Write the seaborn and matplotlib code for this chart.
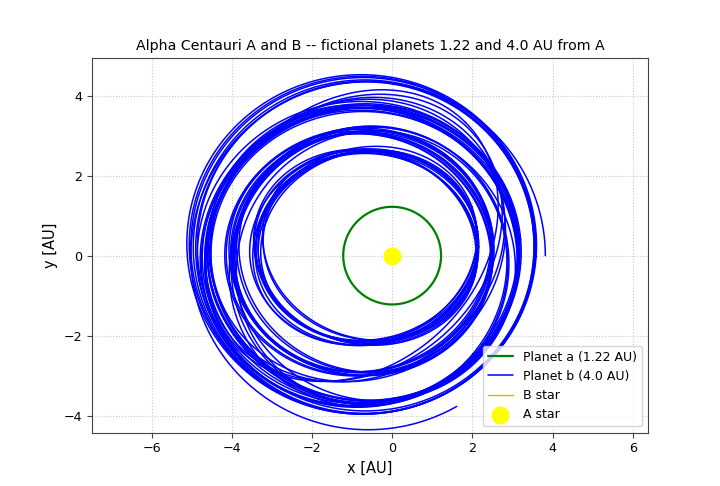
import numpy as np
import pandas as pd
import matplotlib
matplotlib.use('Agg')
import matplotlib.pyplot as plt
import seaborn as sns

# Planet a: a near-circular orbit
planet_a_radius = 1.22

# Planet b: each loop of the perturbed orbit, approximated as an ellipse
# (centre x, centre y, half-width, half-height, tilt in degrees)
loop_cx = [
    # inner band
    -0.62, -0.60, -0.65, -0.58, -0.66, -0.63, -0.61, -0.68, -0.57, -0.64, -0.55, -0.70,
    # middle band
    -0.75, -0.72, -0.78, -0.74, -0.70, -0.80, -0.76, -0.73, -0.68, -0.82,
    # outer band
    -0.75, -0.78, -0.72, -0.80, -0.70, -0.76, -0.74, -0.82, -0.68, -0.77, -0.73, -0.79,
    # outermost loops
    -0.72, -0.70, -0.76, -0.68, -0.74, -0.66,
    # tilted loops
    -0.90, -0.95, -0.85, -1.00, -0.55, -0.50, -0.45, -0.60,
]
loop_cy = [
    0.22, 0.24, 0.20, 0.26, 0.21, 0.23, 0.18, 0.25, 0.27, 0.19, 0.23, 0.21,
    0.07, 0.09, 0.05, 0.10, 0.06, 0.08, 0.04, 0.11, 0.07, 0.09,
    0.00, 0.03, -0.02, 0.02, 0.04, -0.03, 0.01, 0.05, -0.01, 0.00, 0.06, -0.04,
    0.25, 0.22, 0.28, 0.20, 0.26, 0.24,
    0.40, 0.45, 0.38, 0.50, -0.25, -0.30, -0.20, -0.28,
]
loop_rx = [
    2.78, 2.75, 2.80, 2.72, 2.82, 2.77, 2.74, 2.84, 2.70, 2.79, 2.68, 2.86,
    3.25, 3.22, 3.30, 3.24, 3.20, 3.34, 3.27, 3.23, 3.18, 3.36,
    3.92, 3.96, 3.88, 4.00, 3.86, 3.94, 3.90, 4.04, 3.84, 3.95, 3.89, 3.98,
    4.30, 4.26, 4.36, 4.22, 4.32, 4.20,
    3.85, 3.95, 3.75, 4.00, 3.45, 3.35, 3.55, 3.40,
]
loop_ry = [
    2.38, 2.36, 2.41, 2.35, 2.42, 2.39, 2.37, 2.43, 2.34, 2.40, 2.33, 2.45,
    3.00, 2.98, 3.04, 2.99, 2.96, 3.07, 3.02, 2.97, 2.94, 3.09,
    3.68, 3.72, 3.65, 3.76, 3.64, 3.70, 3.67, 3.80, 3.61, 3.71, 3.66, 3.74,
    4.20, 4.17, 4.24, 4.14, 4.22, 4.12,
    3.40, 3.30, 3.45, 3.25, 3.50, 3.45, 3.40, 3.55,
]
loop_tilt = [
    0, 10, -10, 15, -15, 5, -5, 20, -20, 12, -12, 8,
    0, 12, -12, 18, -18, 6, -6, 24, -24, 9,
    0, 8, -8, 14, -14, 20, -20, 5, -5, 26, -26, 11,
    0, 4, -4, 6, -2, 3,
    35, 40, 30, 45, -30, -35, -25, -40,
]

# first, unfinished loop: starts at (3.82, 0) and runs counter-clockwise
start_cx, start_cy, start_rx, start_ry = -0.60, 0.0, 4.42, 4.35
start_sweep_deg = [0, 300]

# B star lies far outside the plotted window
b_star_x = []
b_star_y = []

# A star at the origin
a_star_x = [0.0]
a_star_y = [0.0]

sns.set_style('white')
plt.rcParams['font.family'] = ['DejaVu Sans']
plt.rcParams.update({'text.color': 'black', 'axes.labelcolor': 'black',
                     'xtick.color': 'black', 'ytick.color': 'black'})

t = np.linspace(0, 2 * np.pi, 600)
loops = []
for i in range(len(loop_cx)):
    th = np.radians(loop_tilt[i])
    ex = loop_rx[i] * np.cos(t)
    ey = loop_ry[i] * np.sin(t)
    xs = loop_cx[i] + ex * np.cos(th) - ey * np.sin(th)
    ys = loop_cy[i] + ex * np.sin(th) + ey * np.cos(th)
    loops.append(pd.DataFrame({'x': xs, 'y': ys}))
ts = np.linspace(*np.radians(start_sweep_deg), 500)
loops.insert(0, pd.DataFrame({'x': start_cx + start_rx * np.cos(ts),
                              'y': start_cy + start_ry * np.sin(ts)}))

orbit_a = pd.DataFrame({'x': planet_a_radius * np.cos(t),
                        'y': planet_a_radius * np.sin(t)})

fig, ax = plt.subplots(figsize=(7.2, 4.86), dpi=100)
fig.subplots_adjust(left=0.128, right=0.9, top=0.88, bottom=0.11)

sns.lineplot(data=orbit_a, x='x', y='y', sort=False, estimator=None,
             color='green', linewidth=1.6, ax=ax, label='Planet a (1.22 AU)')
for i, df in enumerate(loops):
    sns.lineplot(data=df, x='x', y='y', sort=False, estimator=None,
                 color='blue', linewidth=1.1, ax=ax,
                 label='Planet b (4.0 AU)' if i == 0 else None,
                 legend=(i == 0))
ax.plot(b_star_x, b_star_y, color='orange', linewidth=1.0, label='B star')
sns.scatterplot(x=a_star_x, y=a_star_y, color='yellow', s=170, linewidth=0,
                ax=ax, label='A star', zorder=5)

ax.set_xlim(-7.48, 6.38)
ax.set_ylim(-4.42, 4.93)
ax.set_xticks([-6, -4, -2, 0, 2, 4, 6])
ax.set_yticks([-4, -2, 0, 2, 4])
ax.grid(True, linestyle=':', color='#c8c8c8', linewidth=0.8)
for s in ax.spines.values():
    s.set_color('#444444')
    s.set_linewidth(0.8)
ax.tick_params(axis='both', labelsize=9.2, length=3.5, width=0.8,
               direction='out', bottom=True, left=True, color='#444444')
ax.set_xlabel('x [AU]', fontsize=10.5)
ax.set_ylabel('y [AU]', fontsize=10.5)
ax.set_title('Alpha Centauri A and B -- fictional planets 1.22 and 4.0 AU from A',
             fontsize=10.2)
handles, labels = ax.get_legend_handles_labels()
ax.legend(handles[:4], labels[:4], loc='lower right', fontsize=9.0, frameon=True)

plt.savefig('out.png', dpi=100)
